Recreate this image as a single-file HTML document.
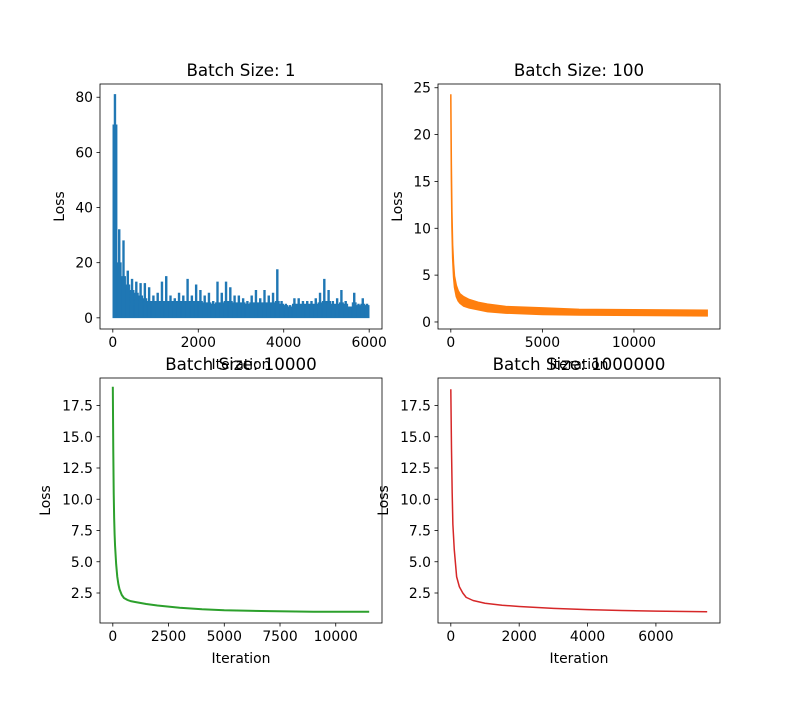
<!DOCTYPE html>
<html><head><meta charset="utf-8"><style>
body{margin:0;background:#fff}
svg text{font-family:"DejaVu Sans","Liberation Sans",sans-serif;fill:#000}
</style></head><body>
<svg id="fig" width="800" height="700" xmlns="http://www.w3.org/2000/svg"></svg>
<script>
// Batch Size 1: peak loss per 100-iteration bin
const bs1Peaks=[81,32,28,17,14,13,12.5,12.5,11,8,9,13,15,8,7,9,8,14,8,12,10,8,9,6,13,9,13,11,8,8,7,6,8,10,7,10,8,9,17.5,6,5,4.5,7,7,6,6,6,7,9,14,10,6,7,10,6,4,9,5,7,5];
// typical (dense) loss level per bin
const bs1Base=[70,20,15,12,10,9,8,7,6,6,6,6,6,6,6,6,6,6,6,6,6,5.5,5.5,5,5.5,5.5,6,6,5.5,5.5,5.5,5,5.5,5.5,5.5,5.5,5.5,5.5,6,5,4.5,4,5,5,5,5,5,5,5.5,6,6,5,5,5.5,5,4,5.5,4.5,5,4.5];
const bs1BinSize=100;
// Batch Size 100: mean curve + noise half-width
const bs100Iter=[0,30,60,100,150,200,300,400,500,700,1000,1500,2000,3000,5000,7000,10000,14000];
const bs100Mean=[24,16,11,7.5,5.5,4.3,3.3,2.8,2.5,2.2,1.95,1.7,1.5,1.3,1.15,1.05,1.0,0.95];
const bs100Noise=[0.3,0.8,0.8,0.7,0.7,0.6,0.6,0.55,0.5,0.5,0.45,0.4,0.4,0.35,0.35,0.3,0.3,0.3];
// Batch Size 10000
const bs10kIter=[0,20,40,60,80,100,150,200,250,300,400,500,650,800,1000,1500,2000,3000,4000,5000,7000,9000,11500];
const bs10kLoss=[19,14,10.5,8.5,7.2,6.3,4.8,3.8,3.2,2.8,2.35,2.1,1.95,1.85,1.78,1.62,1.5,1.32,1.2,1.12,1.05,1.0,1.0];
// Batch Size 1000000
const bs1mIter=[0,20,40,60,100,170,250,350,450,650,1000,1500,2000,3000,4000,5000,6000,7500];
const bs1mLoss=[18.8,14,10.5,8,6,3.8,3.0,2.5,2.15,1.9,1.68,1.52,1.42,1.27,1.17,1.1,1.05,1.0];
// ticks
const xt1=[0,2000,4000,6000], yt1=[0,20,40,60,80];
const xt2=[0,5000,10000], yt2=[0,5,10,15,20,25];
const xt3=[0,2500,5000,7500,10000], yt3=[2.5,5.0,7.5,10.0,12.5,15.0,17.5];
const xt4=[0,2000,4000,6000], yt4=[2.5,5.0,7.5,10.0,12.5,15.0,17.5];

const NS="http://www.w3.org/2000/svg";
const fig=document.getElementById('fig');
function mk(tag,attrs,parent){const e=document.createElementNS(NS,tag);for(const k in attrs)e.setAttribute(k,attrs[k]);(parent||fig).appendChild(e);return e;}
function axes(o){
  const g=mk('g',{});
  
  
  const sx=v=>o.L+(v-o.x0)/(o.x1-o.x0)*(o.R-o.L);
  const sy=v=>o.B-(v-o.y0)/(o.y1-o.y0)*(o.B-o.T);
  return {g,sx,sy,o};
}
function frame(a,xt,yt,ydec,title,ylx){
  const {g,sx,sy,o}=a;
  const fr=mk('rect',{x:o.L,y:o.T,width:o.R-o.L,height:o.B-o.T,fill:'none',stroke:'#000','stroke-width':0.8},g);
  
  xt.forEach(v=>{const x=sx(v);mk('line',{x1:x,x2:x,y1:o.B,y2:o.B+3.5,stroke:'#000','stroke-width':0.8},g);
    const t=mk('text',{x:x,y:o.B+18,'font-size':13.9,'text-anchor':'middle'},g);t.textContent=v;});
  yt.forEach(v=>{const y=sy(v);mk('line',{x1:o.L-3.5,x2:o.L,y1:y,y2:y,stroke:'#000','stroke-width':0.8},g);
    const t=mk('text',{x:o.L-7,y:y+5,'font-size':13.9,'text-anchor':'end'},g);t.textContent=ydec?v.toFixed(1):v;});
  const tt=mk('text',{x:(o.L+o.R)/2,y:o.T-8,'font-size':16.7,'text-anchor':'middle'},g);tt.textContent=title;
  
  const xl=mk('text',{x:(o.L+o.R)/2,y:o.B+40,'font-size':13.9,'text-anchor':'middle'},g);xl.textContent='Iteration';
  
  const cy=(o.T+o.B)/2;
  const yl=mk('text',{x:ylx,y:cy,'font-size':13.9,'text-anchor':'middle',transform:`rotate(-90 ${ylx} ${cy})`},g);yl.textContent='Loss';
  
}
// subplot 1
const a1=axes({name:'subplot-batch-1',L:100,R:382,T:84,B:329,x0:-300,x1:6300,y0:-4.05,y1:84.8});
{const {g,sx,sy}=a1;let d='';
 bs1Peaks.forEach((p,i)=>{const x0=sx(i*bs1BinSize),x1=sx((i+1)*bs1BinSize);const b=Math.min(bs1Base[i],p);
   d+=`M${x0},${sy(0)}L${x0},${sy(b)}L${x1},${sy(b)}L${x1},${sy(0)}Z`;
   const xm=(x0+x1)/2;d+=`M${xm-0.9},${sy(b)}L${xm-0.9},${sy(p)}L${xm+0.9},${sy(p)}L${xm+0.9},${sy(b)}Z`;});
 const p=mk('path',{d,fill:'#1f77b4',stroke:'#1f77b4','stroke-width':0.6},g);}
frame(a1,xt1,yt1,false,'Batch Size: 1',64);
// subplot 2
const a2=axes({name:'subplot-batch-100',L:438,R:720,T:84,B:329,x0:-700,x1:14700,y0:-0.75,y1:25.4});
{const {g,sx,sy}=a2;let up=bs100Iter.map((x,i)=>`${sx(x)},${sy(bs100Mean[i]+bs100Noise[i])}`);
 let lo=bs100Iter.map((x,i)=>`${sx(x)},${sy(Math.max(0.4,bs100Mean[i]-bs100Noise[i]))}`).reverse();
 const p=mk('polygon',{points:up.concat(lo).join(' '),fill:'#ff7f0e',stroke:'#ff7f0e','stroke-width':1.5},g);}
frame(a2,xt2,yt2,false,'Batch Size: 100',402);
// subplot 3
const a3=axes({name:'subplot-batch-10000',L:100,R:382,T:378,B:623,x0:-575,x1:12075,y0:0.1,y1:19.7});
{const {g,sx,sy}=a3;const p=mk('polyline',{points:bs10kIter.map((x,i)=>`${sx(x)},${sy(bs10kLoss[i])}`).join(' '),fill:'none',stroke:'#2ca02c','stroke-width':2,'stroke-linejoin':'round'},g);}
frame(a3,xt3,yt3,true,'Batch Size: 10000',50);
// subplot 4
const a4=axes({name:'subplot-batch-1000000',L:438,R:720,T:378,B:623,x0:-375,x1:7875,y0:0.1,y1:19.7});
{const {g,sx,sy}=a4;const p=mk('polyline',{points:bs1mIter.map((x,i)=>`${sx(x)},${sy(bs1mLoss[i])}`).join(' '),fill:'none',stroke:'#d62728','stroke-width':1.5,'stroke-linejoin':'round'},g);}
frame(a4,xt4,yt4,true,'Batch Size: 1000000',388);
</script>
</body></html>
